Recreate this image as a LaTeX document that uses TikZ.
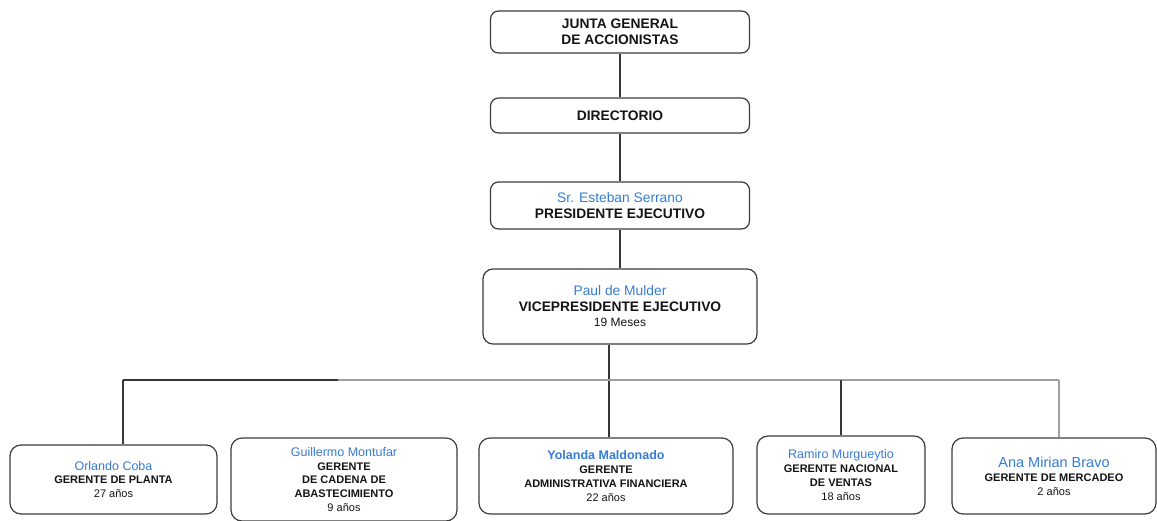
\documentclass[tikz,border=0pt]{standalone}
\usepackage{fontspec}
\setmainfont{Liberation Sans}
\definecolor{nameblue}{RGB}{52,124,214}
\definecolor{boxline}{RGB}{60,60,60}
\definecolor{txt}{RGB}{20,20,20}
\definecolor{lightline}{RGB}{160,160,160}
\tikzset{
  topbox/.style={draw=boxline, line width=1.2pt, rounded corners=8pt, inner sep=0pt,
    align=center, text=txt, font=\fontsize{13.8}{16.5}\selectfont\bfseries},
  lowbox/.style={draw=boxline, line width=1.2pt, rounded corners=11pt, inner sep=0pt,
    align=center, text=txt, font=\fontsize{11}{13.8}\selectfont},
  conn/.style={draw=boxline!90!black, line width=1.2pt},
  connlight/.style={draw=lightline, line width=1.2pt}
}
\newcommand{\nm}[1]{{\color{nameblue}\mdseries #1}}
\newcommand{\lnm}[1]{{\color{nameblue}\fontsize{12.5}{13.8}\selectfont #1}}
\begin{document}
\begin{tikzpicture}[x=1pt,y=-1pt]
\path[use as bounding box] (0,0) rectangle (1157,521);

\node[topbox, minimum width=259pt, minimum height=42pt] (J) at (620,32) {JUNTA GENERAL\\DE ACCIONISTAS};
\node[topbox, minimum width=259pt, minimum height=35pt] (D) at (620,115.5) {DIRECTORIO};
\node[topbox, minimum width=259pt, minimum height=47pt] (P) at (620,205.5) {\nm{Sr. Esteban Serrano}\\PRESIDENTE EJECUTIVO};
\node[topbox, rounded corners=10pt, font=\fontsize{13.8}{15.5}\selectfont\bfseries, minimum width=274pt, minimum height=75pt] (V) at (620,306.5)
  {\nm{Paul de Mulder}\\VICEPRESIDENTE EJECUTIVO\\{\mdseries\fontsize{12}{15.5}\selectfont 19 Meses}};

\node[lowbox, minimum width=207pt, minimum height=69pt] (O) at (113.5,479.5)
  {\lnm{Orlando Coba}\\\textbf{GERENTE DE PLANTA}\\27 años};
\node[lowbox, minimum width=226pt, minimum height=83pt] (G) at (344,479.5)
  {\lnm{Guillermo Montufar}\\\textbf{GERENTE}\\\textbf{DE CADENA DE}\\\textbf{ABASTECIMIENTO}\\9 años};
\node[lowbox, minimum width=254pt, minimum height=76pt] (Y) at (606,476)
  {\lnm{\bfseries Yolanda Maldonado}\\\textbf{GERENTE}\\\textbf{ADMINISTRATIVA FINANCIERA}\\22 años};
\node[lowbox, minimum width=168pt, minimum height=78pt] (R) at (841,475)
  {\lnm{Ramiro Murgueytio}\\\textbf{GERENTE NACIONAL}\\\textbf{DE VENTAS}\\18 años};
\node[lowbox, minimum width=204pt, minimum height=76pt] (A) at (1054,476)
  {{\color{nameblue}\fontsize{14.5}{13.8}\selectfont Ana Mirian Bravo}\\\textbf{GERENTE DE MERCADEO}\\2 años};

\coordinate (bv) at (609,380);
\coordinate (bl) at (123,380);
\coordinate (bm) at (338,380);
\coordinate (br) at (1059,380);
\coordinate (bR) at (841,380);

\draw[conn] (J.south) -- (D.north);
\draw[conn] (D.south) -- (P.north);
\draw[conn] (P.south) -- (V.north);
\draw[conn] (V.south -| bv) -- (Y.north -| bv);
\draw[conn] (bl) -- (bm);
\draw[connlight] (bm) -- (br);
\draw[conn] (bl) -- (bl |- O.north);
\draw[conn] (bR) -- (R.north);
\draw[connlight] (br) -- (br |- A.north);
\end{tikzpicture}
\end{document}
